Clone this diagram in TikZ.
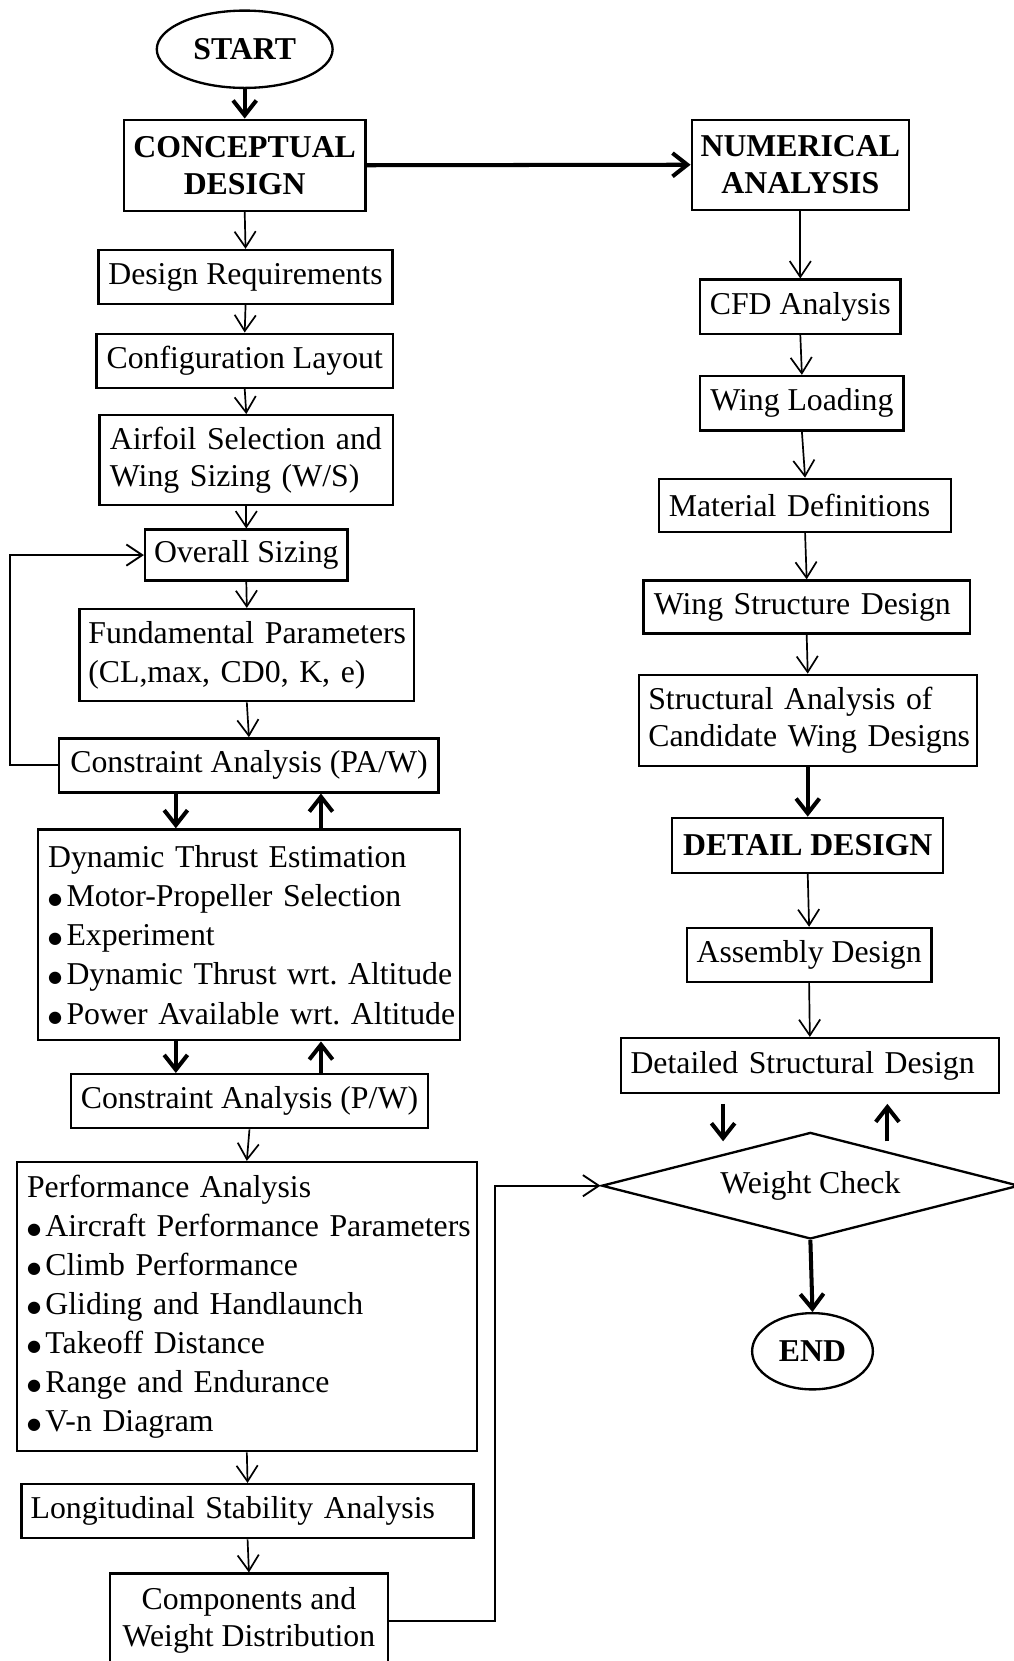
\documentclass[tikz,border=0pt]{standalone}
\usepackage{fontspec}
\setmainfont{Liberation Serif}
\newfontfamily\djv{DejaVu Sans}
\usetikzlibrary{arrows.meta,shapes.geometric,calc}
\newcommand\bul{\makebox[8.7pt][l]{\raisebox{0.9pt}{\djv\fontsize{7.6}{7.6}\selectfont ●}}}
\AtBeginDocument{\frenchspacing}
\begin{document}
\begin{tikzpicture}[x=0.5pt,y=-0.5pt,
  box/.style={draw, line width=1.1pt, inner sep=0pt, align=center,
    font=\fontsize{15}{17.5}\selectfont},
  lbox/.style={box, align=left, inner xsep=4.7pt},
  bold/.style={font=\fontsize{15}{17.5}\selectfont\bfseries},
  oval/.style={draw, ellipse, line width=1.1pt, inner sep=0pt,
    font=\fontsize{15}{17.5}\selectfont\bfseries},
  thinarr/.style={-{Straight Barb[length=7.5pt,width=10pt]}, line width=0.8pt},
  thickarr/.style={-{Straight Barb[length=7pt,width=11pt]}, line width=1.9pt},
  loopline/.style={-{Straight Barb[length=7.5pt,width=10pt]}, line width=0.9pt}]
\useasboundingbox (0,0) rectangle (957,1568);

% ---------- left column ----------
\node[oval, minimum width=83pt, minimum height=36.5pt] (start) at (231,46.5) {START};
\node[box, bold, minimum width=114pt, minimum height=43pt] (conc) at (231,156) {CONCEPTUAL\\DESIGN};
\node[box, minimum width=138.8pt, minimum height=25.5pt] (dr) at (231.8,261.5) {Design Requirements};
\node[box, minimum width=140pt, minimum height=25.5pt] (cl) at (231,340.5) {Configuration Layout};
\node[lbox, inner xsep=4.9pt, text width=128.7pt, minimum height=42.5pt] (af) at (232.5,434.5)
  {\mbox{Airfoil Selection and}\\\mbox{Wing Sizing (W/S)}};
\node[box, minimum width=95.5pt, minimum height=24pt] (os) at (232.5,524) {Overall Sizing};
\node[lbox, inner xsep=4.2pt, text width=149.6pt, minimum height=43.5pt,
  font=\fontsize{15}{18.5}\selectfont] (fp) at (233,618.5)
  {\mbox{Fundamental Parameters}\\\mbox{(CL,max, CD0, K, e)}};
\node[box, minimum width=179pt, minimum height=25.5pt] (paw) at (235,722.5) {Constraint Analysis (PA/W)};
\node[lbox, text width=189.6pt, minimum height=99.5pt,
  font=\fontsize{15}{18.5}\selectfont] (dyn) at (235,882.5)
  {\mbox{Dynamic Thrust Estimation}\\
   \mbox{\bul Motor-Propeller Selection}\\
   \mbox{\bul Experiment}\\
   \mbox{\bul Dynamic Thrust wrt. Altitude}\\
   \mbox{\bul Power Available wrt. Altitude}};
\node[box, minimum width=168.5pt, minimum height=25.5pt] (pw) at (235.5,1039.5) {Constraint Analysis (P/W)};
\node[lbox, inner xsep=4.75pt, text width=207.5pt, minimum height=136.5pt,
  font=\fontsize{15}{18.4}\selectfont] (perf) at (233,1233.5)
  {\mbox{Performance Analysis}\\
   \mbox{\bul Aircraft Performance Parameters}\\
   \mbox{\bul Climb Performance}\\
   \mbox{\bul Gliding and Handlaunch}\\
   \mbox{\bul Takeoff Distance}\\
   \mbox{\bul Range and Endurance}\\
   \mbox{\bul V-n Diagram}};
\node[lbox, inner xsep=4.25pt, text width=204.75pt, minimum height=25.5pt] (long) at (233.7,1426.5)
  {\mbox{Longitudinal Stability Analysis}};
\node[box, minimum width=131pt, minimum height=44.5pt] (comp) at (235,1530)
  {Components and\\Weight Distribution};

% ---------- right column ----------
\node[box, bold, minimum width=102.5pt, minimum height=42.5pt] (num) at (755.5,155.5) {NUMERICAL\\ANALYSIS};
\node[box, minimum width=94.5pt, minimum height=25.5pt] (cfd) at (755.5,289.5) {CFD Analysis};
\node[box, minimum width=96pt, minimum height=25.75pt] (wl) at (757,380.7) {Wing Loading};
\node[lbox, text width=128.6pt, minimum height=25pt] (md) at (760,477) {\mbox{Material Definitions}};
\node[lbox, inner xsep=4.85pt, text width=144.3pt, minimum height=25pt] (wsd) at (761.5,573)
  {\mbox{Wing Structure Design}};
\node[lbox, inner xsep=4.5pt, text width=150.5pt, minimum height=43pt] (sa) at (762.5,680)
  {\mbox{Structural Analysis of}\\\mbox{Candidate Wing Designs}};
\node[box, bold, minimum width=128pt, minimum height=26pt] (dd) at (762.5,798) {DETAIL DESIGN};
\node[box, minimum width=115.5pt, minimum height=25.5pt] (ad) at (763.8,901.5) {Assembly Design};
\node[lbox, inner xsep=4.6pt, text width=169.3pt, minimum height=26pt] (dsd) at (764.5,1006)
  {\mbox{Detailed Structural Design}};
\node[draw, diamond, aspect=3.92, line width=1.1pt, inner sep=0pt, minimum width=197pt, minimum height=50.3pt,
  font=\fontsize{15}{17.5}\selectfont] (wc) at (765,1119.3) {Weight Check};
\node[oval, minimum width=57pt, minimum height=36pt] (end) at (767,1275.6) {END};

\coordinate (dnA) at (682.6,1042);
\coordinate (dnB) at (682.6,1077.4);
\coordinate (upA) at (837.7,1077.4);
\coordinate (upB) at (837.7,1042);

% ---------- connectors ----------
\draw[thickarr] (start.south) -- (conc.north);
\draw[thickarr] (conc.east) -- (num.west);
\draw[thinarr] (conc.south) -- (dr.north);
\draw[thinarr] (dr.south) -- (cl.north);
\draw[thinarr] (cl.south) -- (af.north);
\draw[thinarr] (af.south) -- (os.north);
\draw[thinarr] (os.south) -- (fp.north);
\draw[thinarr] (fp.south) -- (paw.north);
\draw[loopline] (paw.west) -- ++(-45.6,0) |- (os.west);
\draw[thickarr] ([xshift=-34.5pt]paw.south) -- ([xshift=-34.5pt]dyn.north);
\draw[thickarr] ([xshift=34pt]dyn.north) -- ([xshift=34pt]paw.south);
\draw[thickarr] ([xshift=-34.5pt]dyn.south) -- ([xshift=-34.75pt]pw.north);
\draw[thickarr] ([xshift=33.75pt]pw.north) -- ([xshift=34pt]dyn.south);
\draw[thinarr] (pw.south) -- (perf.north);
\draw[thinarr] (perf.south) -- (long.north);
\draw[thinarr] (long.south) -- (comp.north);
\draw[loopline] (comp.east) -- ++(100.5,0) |- (wc.west);

\draw[thinarr] (num.south) -- (cfd.north);
\draw[thinarr] (cfd.south) -- (wl.north);
\draw[thinarr] (wl.south) -- (md.north);
\draw[thinarr] (md.south) -- (wsd.north);
\draw[thinarr] (wsd.south) -- (sa.north);
\draw[thickarr] (sa.south) -- (dd.north);
\draw[thinarr] (dd.south) -- (ad.north);
\draw[thinarr] (ad.south) -- (dsd.north);
\draw[thickarr] (dnA) -- (dnB);
\draw[thickarr] (upA) -- (upB);
\draw[thickarr] (wc.south) -- (end.north);
\end{tikzpicture}
\end{document}
